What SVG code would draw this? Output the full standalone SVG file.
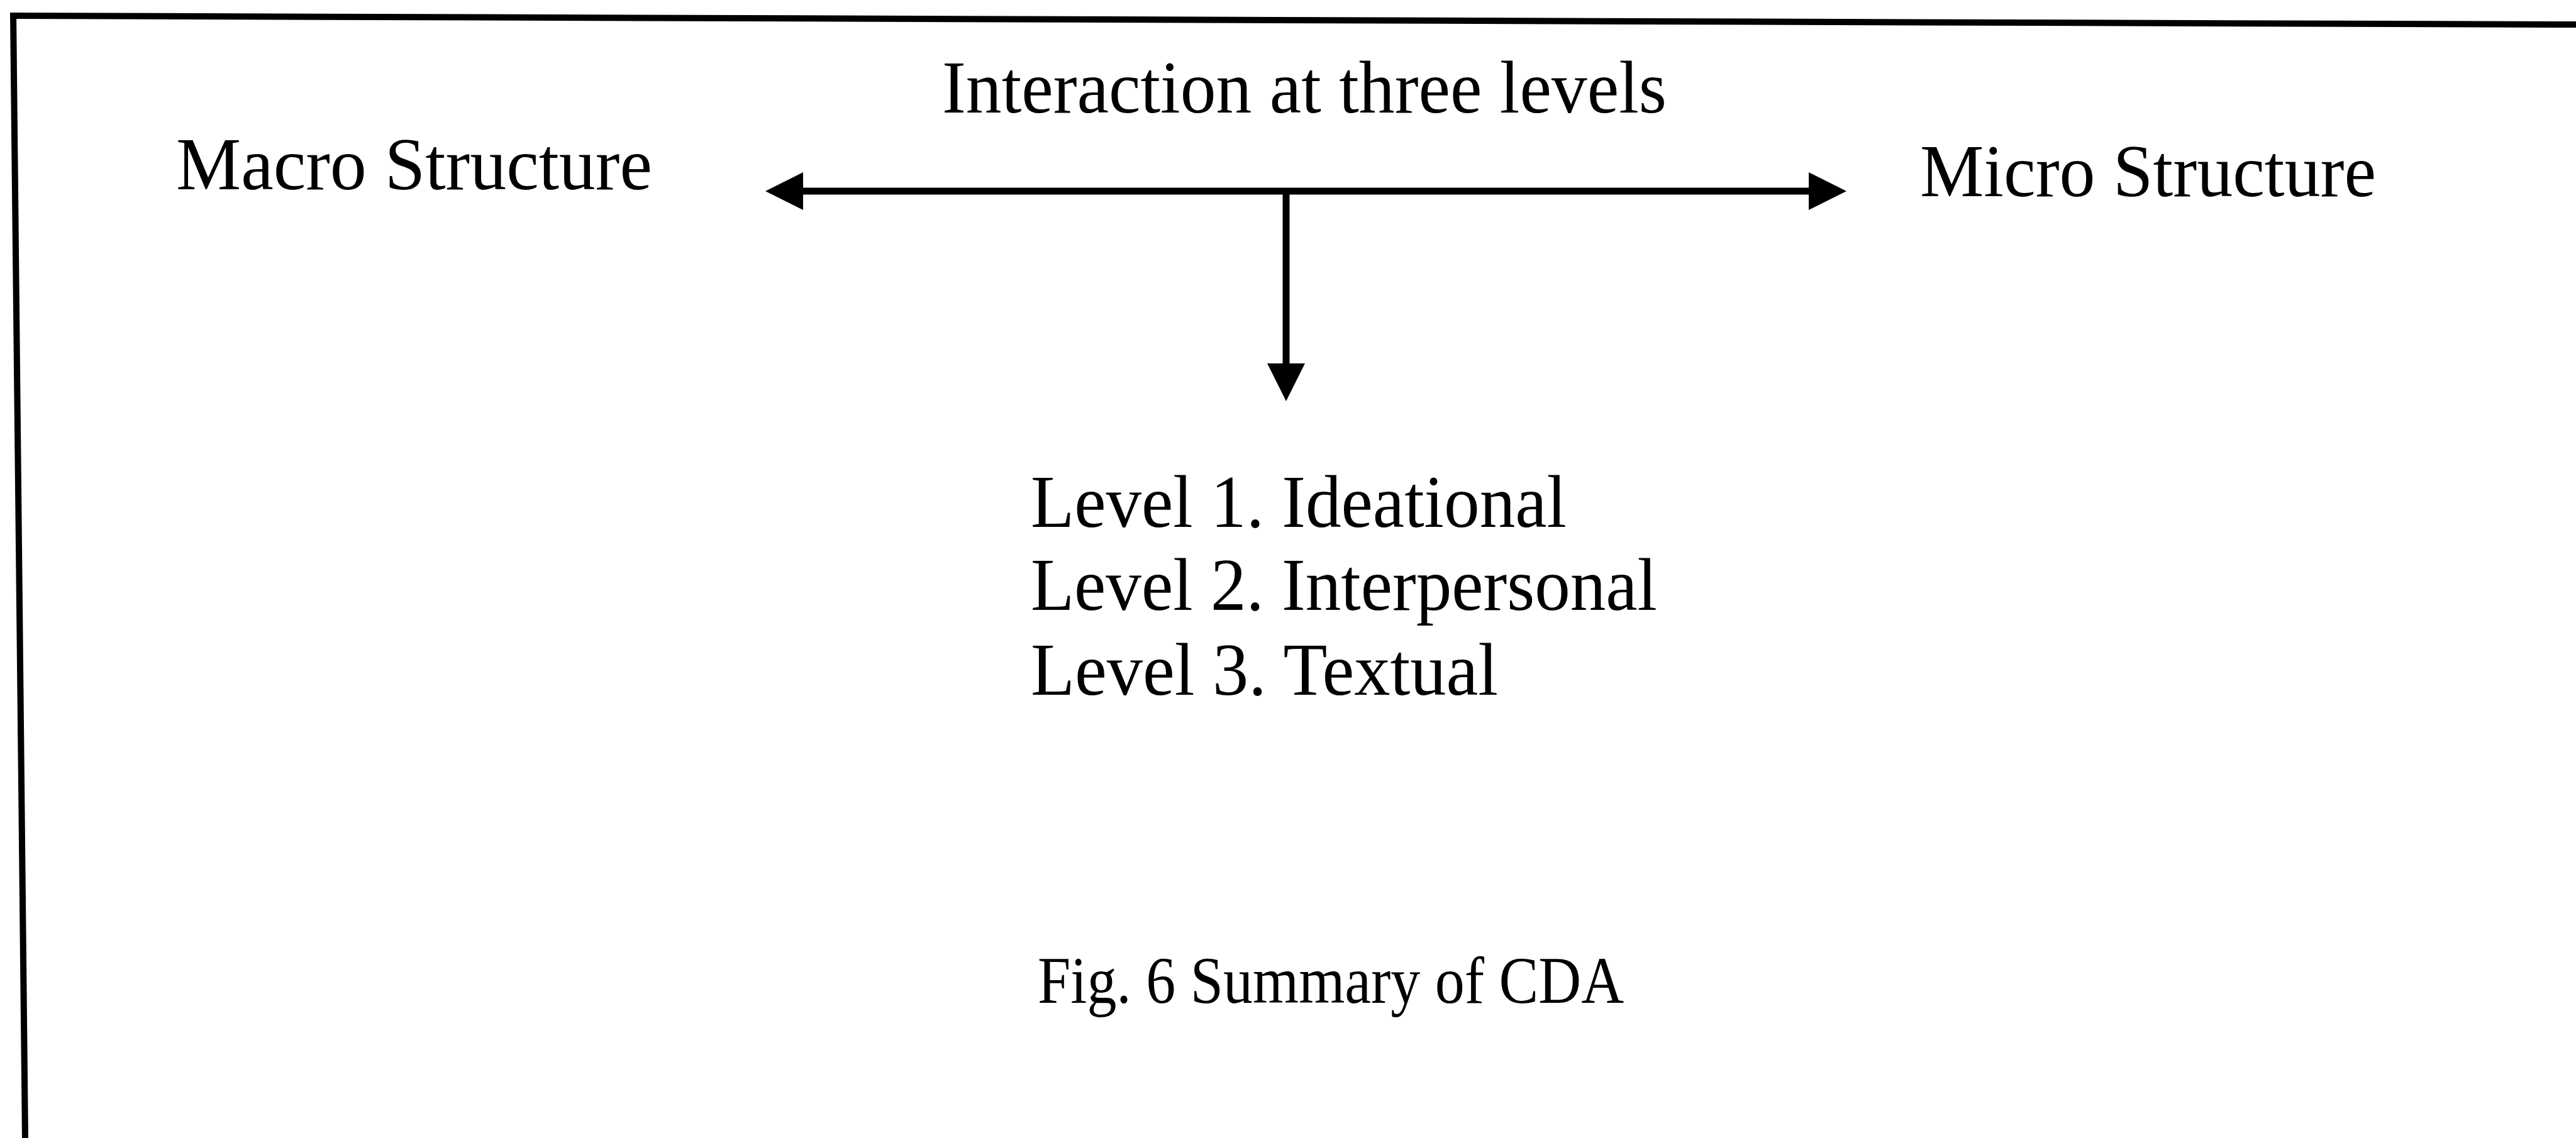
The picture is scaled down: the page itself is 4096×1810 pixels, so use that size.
<svg xmlns="http://www.w3.org/2000/svg" width="4096" height="1810" viewBox="0 0 4096 1810">
  <style>
    .t { font-family: "Liberation Serif", "Times New Roman", serif; font-size: 118px; fill: #000; }
    .cap { font-size: 106px; }
    .edge { stroke: #000; stroke-width: 11; fill: none; }
    .frame { stroke: #000; stroke-width: 10; fill: none; }
  </style>
  <defs>
    <marker id="arrow" viewBox="0 0 60 60" refX="0" refY="30" markerWidth="60" markerHeight="60" markerUnits="userSpaceOnUse" orient="auto-start-reverse">
      <path d="M0,0 L60,30 L0,60 Z" fill="#000"/>
    </marker>
  </defs>
  <rect width="4096" height="1810" fill="#fff"/>

  <g id="frame">
    <line class="frame" x1="16" y1="25" x2="4096" y2="39"/>
    <line class="frame" x1="21" y1="21" x2="40" y2="1810"/>
  </g>

  <g id="connectors">
    <line class="edge" x1="1277" y1="304" x2="2876" y2="304" marker-start="url(#arrow)" marker-end="url(#arrow)"/>
    <line class="edge" x1="2045" y1="304" x2="2045" y2="578" stroke-width="10" marker-end="url(#arrow)"/>
  </g>

  <g id="title">
    <text class="t" x="1498" y="179" textLength="1152" lengthAdjust="spacingAndGlyphs">Interaction at three levels</text>
  </g>
  <g id="macro">
    <text class="t" x="280" y="301" textLength="757" lengthAdjust="spacingAndGlyphs">Macro Structure</text>
  </g>
  <g id="micro">
    <text class="t" x="3053" y="312" textLength="725" lengthAdjust="spacingAndGlyphs">Micro Structure</text>
  </g>
  <g id="levels">
    <text class="t" x="1639" y="838" textLength="852" lengthAdjust="spacingAndGlyphs">Level 1. Ideational</text>
    <text class="t" x="1639" y="970" textLength="996" lengthAdjust="spacingAndGlyphs">Level 2. Interpersonal</text>
    <text class="t" x="1639" y="1105" textLength="743" lengthAdjust="spacingAndGlyphs">Level 3. Textual</text>
  </g>
  <g id="caption">
    <text class="t cap" x="1650" y="1595" textLength="932" lengthAdjust="spacingAndGlyphs">Fig. 6 Summary of CDA</text>
  </g>
</svg>
